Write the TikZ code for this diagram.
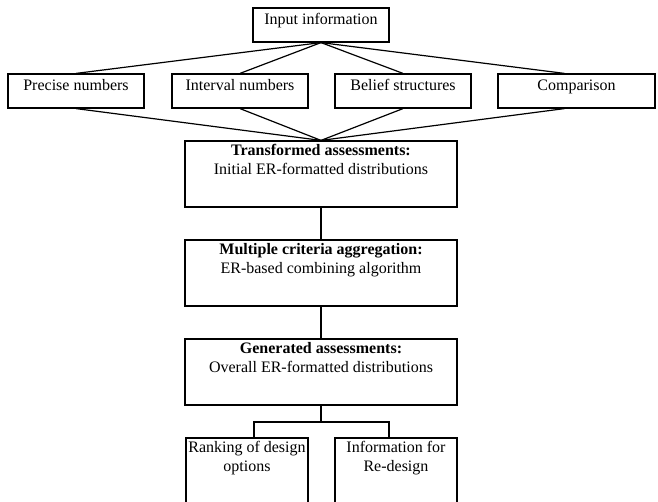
\documentclass[tikz,border=0pt]{standalone}
\usepackage{fontspec}
\setmainfont{Liberation Serif}
\tikzset{
  box/.style={draw, line width=0.9pt, inner sep=0pt, minimum width=102pt,
    text height=12.75pt, text depth=12.75pt, font=\fontsize{12}{14}\selectfont},
  bigbox/.style={draw, line width=0.9pt, minimum width=204pt, minimum height=49.5pt},
  outbox/.style={draw, line width=0.9pt, minimum width=91.5pt, minimum height=67.5pt},
  boxtext/.style={anchor=north, align=center, inner sep=3pt, font=\fontsize{12}{14.25}\selectfont},
  link/.style={line width=0.9pt}
}
\begin{document}
\begin{tikzpicture}[x=0.75pt, y=-0.75pt]
    \clip (0,0) rectangle (658,502);

    % Input level
    \node[box] (inp) at (321,25) {Input information};

    % Kinds of input
    \node[box] (prec) at (76,91) {Precise numbers};
    \node[box] (intv) at (240,91) {Interval numbers};
    \node[box] (belf) at (403,91) {Belief structures};
    \node[box, minimum width=117.75pt] (comp) at (576.5,91) {Comparison};

    % Main chain
    \node[bigbox] (trans) at (321,174) {};
    \node[boxtext] (transtxt) at (trans.north) {\textbf{Transformed assessments:}\\Initial ER-formatted distributions};
    \node[bigbox] (multi) at (321,273) {};
    \node[boxtext] (multitxt) at (multi.north) {\textbf{Multiple criteria aggregation:}\\ER-based combining algorithm};
    \node[bigbox] (gen) at (321,372) {};
    \node[boxtext] (gentxt) at (gen.north) {\textbf{Generated assessments:}\\Overall ER-formatted distributions};

    % Outputs
    \node[outbox] (rank) at (247,483) {};
    \node[boxtext] (ranktxt) at (rank.north) {Ranking of design\\options};
    \node[outbox] (info) at (396,483) {};
    \node[boxtext] (infotxt) at (info.north) {Information for\\Re-design};

    % Fan out and in
    \foreach \k in {prec, intv, belf} {
        \draw[link] (inp.south) -- (\k.north);
        \draw[link] (\k.south) -- (trans.north);
    }
    \draw[link] (inp.south) -- ([xshift=-9pt]comp.north);
    \draw[link] ([xshift=-9pt]comp.south) -- (trans.north);

    % Vertical links
    \draw[link] (trans) -- (multi);
    \draw[link] (multi) -- (gen);

    % Split to outputs
    \coordinate (splitL) at (254,422);
    \coordinate (splitR) at (389,422);
    \draw[link] (gen.south) -- (gen.south |- splitL);
    \draw[link] (rank.north -| splitL) -- (splitL) -- (splitR) -- (splitR |- info.north);
\end{tikzpicture}
\end{document}
